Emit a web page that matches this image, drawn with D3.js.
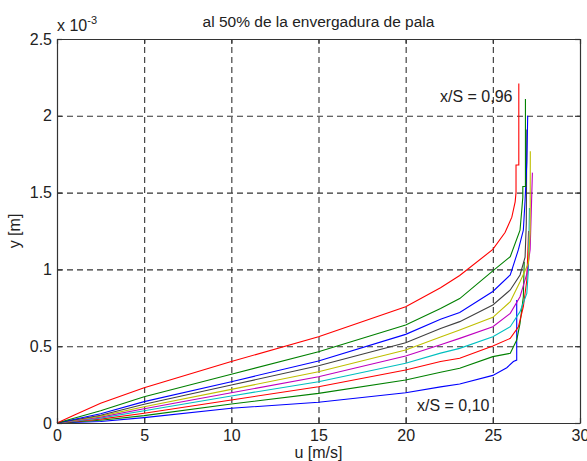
<!DOCTYPE html>
<html>
<head>
<meta charset="utf-8">
<script src="https://cdn.jsdelivr.net/npm/d3@7"></script>
<style>
  body { margin: 0; background: #fff; }
  svg text { font-family: "Liberation Sans", Arial, sans-serif; fill: #222; }
  .grid line { stroke: #333; stroke-dasharray: 6,4; stroke-width: 1.1; }
  .grid path { display: none; }
  .axis path, .axis line { stroke: #333; stroke-width: 1.2; }
</style>
</head>
<body>
<svg id="chart"></svg>
<script>
// u [m/s] , y [x 10^-3 m] - perfiles (de abajo arriba)
const perfil1 = [[0,0],[2.5,0.01],[5,0.035],[10,0.096],[15,0.135],[20,0.197],[22,0.235],[23.1,0.254],[25,0.31],[25.8,0.36],[26.18,0.40],[26.37,0.41],[26.37,0.80]];
const perfil2 = [[0,0],[2.5,0.018],[5,0.048],[10,0.124],[15,0.193],[20,0.28],[22,0.33],[23.1,0.356],[25,0.432],[26,0.454],[26.37,0.54],[26.56,0.649],[26.75,0.822],[26.8,1.05]];
const perfil3 = [[0,0],[2.5,0.025],[5,0.063],[10,0.15],[15,0.236],[20,0.345],[22,0.40],[23.1,0.421],[25,0.501],[26,0.551],[26.47,0.627],[26.75,0.757],[26.95,0.931],[27.05,1.25]];
const perfil4 = [[0,0],[2.5,0.032],[5,0.08],[10,0.176],[15,0.269],[20,0.389],[22,0.455],[23.1,0.486],[25,0.562],[26,0.627],[26.56,0.725],[26.95,0.844],[27.04,1.0],[27.1,1.40]];
const perfil5 = [[0,0],[2.5,0.038],[5,0.093],[10,0.197],[15,0.301],[20,0.436],[22,0.51],[23.1,0.551],[25,0.627],[26,0.714],[26.56,0.822],[26.95,0.97],[27.14,1.13],[27.27,1.63]];
const perfil6 = [[0,0],[2.5,0.045],[5,0.106],[10,0.219],[15,0.334],[20,0.475],[22,0.56],[23.1,0.605],[25,0.688],[26,0.79],[26.56,0.92],[27.04,1.04],[27.14,1.24],[27.15,1.77]];
const perfil7 = [[0,0],[2.5,0.05],[5,0.122],[10,0.247],[15,0.373],[20,0.523],[22,0.615],[23.1,0.66],[25,0.768],[26,0.866],[26.56,0.964],[26.85,1.08],[26.92,1.3],[26.95,1.91]];
const perfil8 = [[0,0],[2.5,0.06],[5,0.139],[10,0.269],[15,0.404],[20,0.577],[22,0.675],[23.1,0.72],[25,0.856],[26,0.964],[26.47,1.13],[26.75,1.256],[26.85,1.45],[26.95,1.7],[27.0,2.0]];
const perfil9 = [[0,0],[2.5,0.08],[5,0.171],[10,0.317],[15,0.464],[20,0.638],[22,0.745],[23.1,0.81],[25,0.99],[26,1.083],[26.56,1.256],[26.66,1.387],[26.72,1.47],[26.72,1.54],[26.87,1.54],[26.87,2.11]];
const perfil10 = [[0,0],[1,0.052],[2.5,0.128],[5,0.23],[10,0.40],[15,0.562],[20,0.757],[22,0.88],[23.1,0.96],[25,1.13],[25.7,1.24],[26.09,1.34],[26.28,1.44],[26.33,1.50],[26.33,1.68],[26.49,1.68],[26.49,2.21]];

const perfiles = [perfil1, perfil2, perfil3, perfil4, perfil5, perfil6, perfil7, perfil8, perfil9, perfil10];
const colores = ["#0000ff", "#008000", "#ff0000", "#00bfbf", "#bf00bf", "#bfbf00", "#404040", "#0000ff", "#008000", "#ff0000"];

const xTicks = [0, 5, 10, 15, 20, 25, 30];
const yTicks = [0, 0.5, 1, 1.5, 2, 2.5];
const yTickLabels = ["0", "0.5", "1", "1.5", "2", "2.5"];

// Tamaño
const width = 587;
const height = 461;
const margin = { top: 39, right: 7, bottom: 38, left: 57 };

const svg = d3.select("#chart")
    .attr("width", width)
    .attr("height", height);

const x = d3.scaleLinear().domain([0, 30]).range([margin.left, width - margin.right]);
const y = d3.scaleLinear().domain([0, 2.5]).range([height - margin.bottom, margin.top]);

const plotW = x(30) - x(0);
const plotH = y(0) - y(2.5);

// Rejilla
svg.append("g")
    .attr("class", "grid")
    .attr("transform", `translate(0,${y(0)})`)
    .call(d3.axisBottom(x).tickValues(xTicks.slice(1, -1)).tickSize(-plotH).tickFormat(""));

svg.append("g")
    .attr("class", "grid")
    .attr("transform", `translate(${x(0)},0)`)
    .call(d3.axisLeft(y).tickValues(yTicks.slice(1, -1)).tickSize(-plotW).tickFormat(""));

// Curvas
const line = d3.line()
    .x(d => x(d[0]))
    .y(d => y(d[1]));

perfiles.forEach((p, i) => {
    svg.append("path")
        .datum(p)
        .attr("fill", "none")
        .attr("stroke", colores[i])
        .attr("stroke-width", 1.1)
        .attr("d", line);
});

// Ejes (caja)
const ax = svg.append("g").attr("class", "axis");
ax.append("g")
    .attr("transform", `translate(0,${y(0)})`)
    .call(d3.axisBottom(x).tickValues(xTicks).tickSize(-5).tickPadding(7).tickSizeOuter(0))
    .call(g => g.selectAll("text").attr("font-size", 16));
ax.append("g")
    .attr("transform", `translate(0,${y(2.5)})`)
    .call(d3.axisTop(x).tickValues(xTicks).tickSize(-5).tickFormat("").tickSizeOuter(0));
ax.append("g")
    .attr("transform", `translate(${x(0)},0)`)
    .call(d3.axisLeft(y).tickValues(yTicks).tickSize(-5).tickPadding(5).tickSizeOuter(0)
        .tickFormat((d, i) => yTickLabels[i]))
    .call(g => g.selectAll("text").attr("font-size", 16));
ax.append("g")
    .attr("transform", `translate(${x(30)},0)`)
    .call(d3.axisRight(y).tickValues(yTicks).tickSize(-5).tickFormat("").tickSizeOuter(0));

// Titulo y etiquetas
svg.append("text")
    .attr("x", (x(0) + x(30)) / 2)
    .attr("y", 27)
    .attr("text-anchor", "middle")
    .attr("font-size", 15.5)
    .text("al 50% de la envergadura de pala");

const mult = svg.append("text")
    .attr("x", x(0))
    .attr("y", 31)
    .attr("font-size", 16);
mult.append("tspan").text("x 10");
mult.append("tspan").attr("dy", -7).attr("font-size", 11).text("-3");

svg.append("text")
    .attr("x", (x(0) + x(30)) / 2)
    .attr("y", 458)
    .attr("text-anchor", "middle")
    .attr("font-size", 16)
    .text("u [m/s]");

svg.append("text")
    .attr("transform", `translate(20,${(y(0) + y(2.5)) / 2}) rotate(-90)`)
    .attr("text-anchor", "middle")
    .attr("font-size", 16)
    .text("y [m]");

svg.append("text")
    .attr("x", 440)
    .attr("y", 102)
    .attr("font-size", 16)
    .text("x/S = 0,96");

svg.append("text")
    .attr("x", 417)
    .attr("y", 411)
    .attr("font-size", 16)
    .text("x/S = 0,10");
</script>
</body>
</html>
